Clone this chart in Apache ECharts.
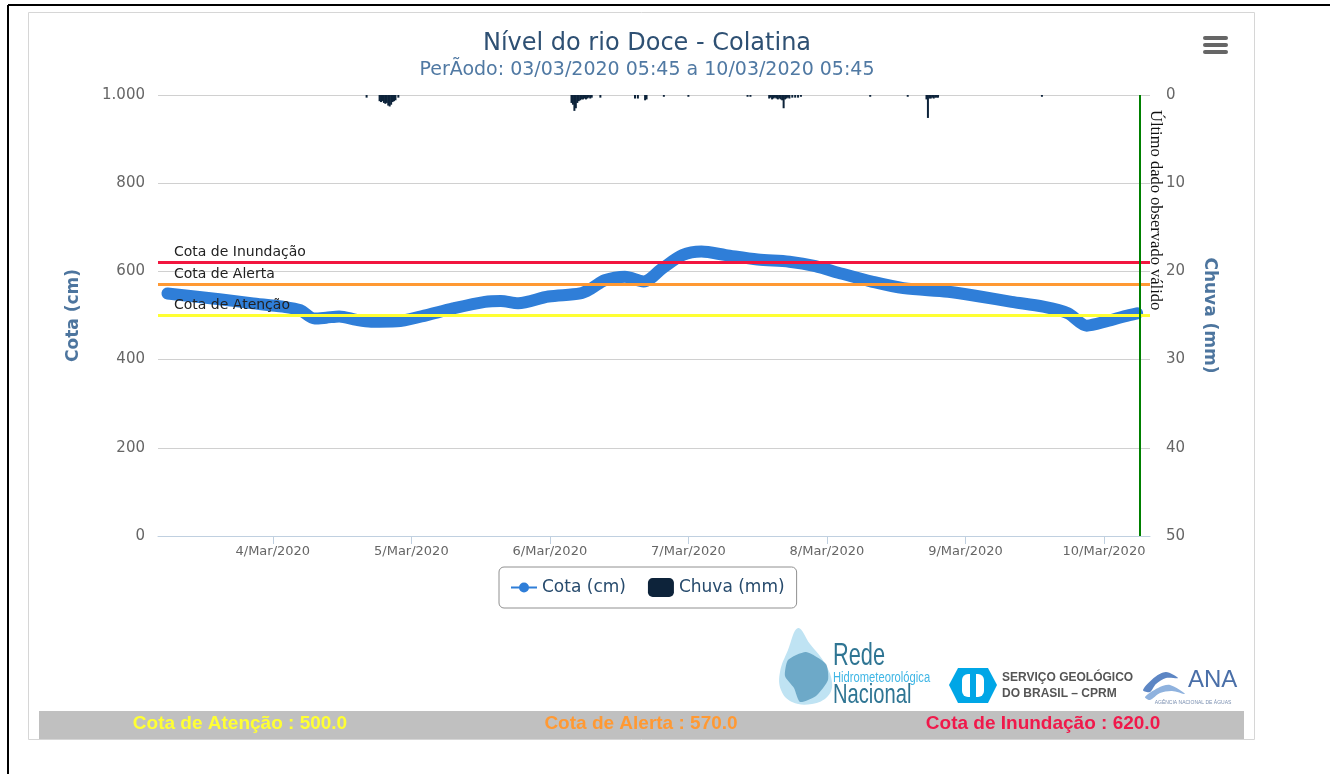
<!DOCTYPE html>
<html>
<head>
<meta charset="utf-8">
<script src="https://cdn.jsdelivr.net/npm/echarts@6/dist/echarts.min.js"></script>
<style>
html,body{margin:0;padding:0;background:#fff;}
#chart{width:1330px;height:774px;}
</style>
</head>
<body>
<div id="chart"></div>
<script>
// ---- Data ----
const tituloTexto = 'Nível do rio Doce - Colatina';
const subtituloTexto = 'PerÃodo: 03/03/2020 05:45 a 10/03/2020 05:45';

const cotaTimes = ['2020-03-03 05:45','2020-03-03 14:45','2020-03-03 20:15','2020-03-04 01:45','2020-03-04 04:45','2020-03-04 07:15','2020-03-04 09:15','2020-03-04 11:30','2020-03-04 14:30','2020-03-04 17:00','2020-03-04 21:30','2020-03-05 01:45','2020-03-05 07:15','2020-03-05 12:45','2020-03-05 15:30','2020-03-05 18:30','2020-03-05 23:45','2020-03-06 05:15','2020-03-06 07:15','2020-03-06 09:30','2020-03-06 13:00','2020-03-06 16:15','2020-03-06 19:30','2020-03-06 23:00','2020-03-07 02:15','2020-03-07 06:30','2020-03-07 12:00','2020-03-07 17:30','2020-03-07 22:00','2020-03-08 02:15','2020-03-08 07:45','2020-03-08 13:15','2020-03-08 21:00','2020-03-09 02:30','2020-03-09 08:00','2020-03-09 13:30','2020-03-09 17:45','2020-03-09 21:00','2020-03-10 00:30','2020-03-10 03:30','2020-03-10 05:45'];
const cotaValues = [550,537,528,520,512,493,495,498,490,486,487,498,516,531,533,528,543,550,562,580,588,577,607,637,645,637,627,622,612,596,577,562,554,543,531,520,505,477,487,498,505];

const chuvaTimes = ['2020-03-04 16:15','2020-03-04 18:30','2020-03-04 18:45','2020-03-04 19:00','2020-03-04 19:15','2020-03-04 19:30','2020-03-04 19:45','2020-03-04 20:00','2020-03-04 20:15','2020-03-04 20:30','2020-03-04 20:45','2020-03-04 21:00','2020-03-04 21:15','2020-03-04 21:45',
'2020-03-06 03:45','2020-03-06 04:00','2020-03-06 04:15','2020-03-06 04:30','2020-03-06 04:45','2020-03-06 05:00','2020-03-06 05:15','2020-03-06 05:30','2020-03-06 05:45','2020-03-06 06:00','2020-03-06 06:15','2020-03-06 06:30','2020-03-06 06:45','2020-03-06 07:00','2020-03-06 07:15','2020-03-06 08:45',
'2020-03-06 14:45','2020-03-06 15:15','2020-03-06 16:30','2020-03-06 16:45','2020-03-06 19:45','2020-03-07 00:00','2020-03-07 10:15','2020-03-07 10:45',
'2020-03-07 14:00','2020-03-07 14:15','2020-03-07 14:30','2020-03-07 14:45','2020-03-07 15:00','2020-03-07 15:15','2020-03-07 15:30','2020-03-07 15:45','2020-03-07 16:00','2020-03-07 16:15','2020-03-07 16:30','2020-03-07 16:45','2020-03-07 17:00','2020-03-07 17:15','2020-03-07 17:30','2020-03-07 18:00','2020-03-07 18:30','2020-03-07 19:00','2020-03-07 19:30',
'2020-03-08 07:30','2020-03-08 14:00','2020-03-08 17:15','2020-03-08 17:30','2020-03-08 17:45','2020-03-08 18:00','2020-03-08 18:15','2020-03-08 18:30','2020-03-08 18:45','2020-03-08 19:00','2020-03-08 19:15','2020-03-09 13:15'];
const chuvaValues = [0.3,0.7,0.8,0.7,0.9,1.0,0.9,1.2,1.3,1.1,0.8,0.7,0.6,0.3,
0.9,1.1,1.8,1.5,0.9,0.7,0.6,0.5,0.5,0.4,0.5,0.4,0.3,0.4,0.3,0.3,
0.4,0.4,0.6,0.5,0.2,0.2,0.2,0.2,
0.4,0.3,0.5,0.4,0.3,0.4,0.5,0.4,0.5,0.6,1.5,0.5,0.4,0.3,0.4,0.3,0.3,0.3,0.2,
0.2,0.2,0.5,2.6,0.4,0.4,0.3,0.4,0.3,0.3,0.3,0.2];

const limiarNomes = ['Cota de Atenção','Cota de Alerta','Cota de Inundação'];
const limiarValores = [500, 570, 620];
const limiarCores = ['#ffff33','#ff9933','#f2163f'];
const limiarTextoCores = ['#ffff33','#ff9933','#f0194b'];

const ultimoDadoTime = '2020-03-10 06:15';
const ultimoDadoTexto = 'Último dado observado válido';
const mesesAbrev = ['Jan','Feb','Mar','Apr','May','Jun','Jul','Aug','Sep','Oct','Nov','Dec'];

// ---- Chart ----
const FONT = 'DejaVu Sans';
const chart = echarts.init(document.getElementById('chart'), null, {renderer:'canvas'});

const cotaData = cotaTimes.map((t,i)=>[t, cotaValues[i]]);
const chuvaData = chuvaTimes.map((t,i)=>[t, chuvaValues[i]]);

const markLineData = limiarValores.map((v,i)=>({
  yAxis: v,
  lineStyle: {color: limiarCores[i], width: 3, type: 'solid'},
  label: {show: true, formatter: limiarNomes[i], position: 'insideStartTop', distance: [16, 3],
          color: '#222', fontSize: 14, fontFamily: FONT}
}));
markLineData.push({
  xAxis: ultimoDadoTime,
  lineStyle: {color: '#008000', width: 2, type: 'solid'},
  label: {show: false}
});

const bottomTexts = limiarNomes.map((n,i)=>({
  type: 'text', x: [240, 641, 1043][i], y: 724,
  style: {text: n + ' : ' + limiarValores[i].toFixed(1), fill: limiarTextoCores[i],
          font: 'bold 19px "Liberation Sans", Arial, sans-serif', textAlign: 'center', textVerticalAlign: 'middle'},
  z: 101
}));

const option = {
  animation: false,
  backgroundColor: '#ffffff',
  title: {
    text: tituloTexto,
    subtext: subtituloTexto,
    left: 642, top: 27, textAlign: 'center', itemGap: 5,
    textStyle: {fontSize: 24, color: '#2e5073', fontWeight: 'normal', fontFamily: FONT},
    subtextStyle: {fontSize: 19, color: '#5079a3', fontFamily: FONT}
  },
  legend: {
    left: 499, top: 567,
    padding: [11, 12, 11, 12],
    borderColor: '#909090', borderWidth: 1, borderRadius: 5,
    itemGap: 22, itemWidth: 26, itemHeight: 19,
    textStyle: {fontSize: 17, color: '#274b6d', fontFamily: FONT},
    data: [
      {name: 'Cota (cm)', icon: 'path://M0,8 L26,8 L26,10 L0,10 Z M13,4 A5,5 0 1,1 13,14 A5,5 0 1,1 13,4 Z'},
      {name: 'Chuva (mm)', icon: 'roundRect'}
    ]
  },
  grid: {left: 158, right: 180, top: 95, bottom: 238, containLabel: false},
  xAxis: {
    type: 'time',
    min: '2020-03-03 04:17',
    max: '2020-03-10 07:48',
    minInterval: 86400000,
    maxInterval: 86400000,
    splitLine: {show: false},
    axisLine: {show: true, lineStyle: {color: '#C0D0E0', width: 1}},
    axisTick: {show: true, length: 8, lineStyle: {color: '#C0D0E0'}},
    axisLabel: {
      color: '#666', fontSize: 13, fontFamily: FONT, margin: 9,
      showMinLabel: false, showMaxLabel: false,
      formatter: function (v) {
        const d = new Date(v);
        return d.getDate() + '/' + mesesAbrev[d.getMonth()] + '/' + d.getFullYear();
      }
    }
  },
  yAxis: [
    {
      type: 'value', min: 0, max: 1000, interval: 200, position: 'left',
      name: 'Cota (cm)', nameLocation: 'middle', nameGap: 76,
      nameTextStyle: {color: '#4d759e', fontWeight: 'bold', fontSize: 17, fontFamily: FONT},
      axisLine: {show: false}, axisTick: {show: false},
      axisLabel: {color: '#666', fontSize: 15, fontFamily: FONT, margin: 13,
        formatter: v => String(v).replace(/\B(?=(\d{3})+(?!\d))/g, '.')},
      splitLine: {show: true, lineStyle: {color: '#d0d0d0', width: 1}}
    },
    {
      type: 'value', min: 0, max: 50, interval: 10, position: 'right', inverse: true,
      name: 'Chuva (mm)', nameLocation: 'middle', nameGap: 51, nameRotate: -90,
      nameTextStyle: {color: '#4d759e', fontWeight: 'bold', fontSize: 17, fontFamily: FONT},
      axisLine: {show: false}, axisTick: {show: false},
      axisLabel: {color: '#666', fontSize: 15, fontFamily: FONT, margin: 16},
      splitLine: {show: false}
    }
  ],
  series: [
    {
      name: 'Cota (cm)', type: 'line', yAxisIndex: 0,
      data: cotaData, smooth: 0.3, showSymbol: false, symbol: 'circle',
      itemStyle: {color: '#2f7ed8'},
      lineStyle: {color: '#2f7ed8', width: 12, cap: 'round', join: 'round'},
      z: 3,
      markLine: {
        silent: true, symbol: ['none','none'], animation: false,
        data: markLineData
      }
    },
    {
      name: 'Chuva (mm)', type: 'bar', yAxisIndex: 1,
      data: chuvaData, barWidth: 2, barGap: '-100%',
      itemStyle: {color: '#0d233a'}, z: 2
    }
  ],
  graphic: [
    {type: 'line', shape: {x1: 8, y1: 5, x2: 1330, y2: 5}, style: {stroke: '#000', lineWidth: 2}, z: 100},
    {type: 'line', shape: {x1: 8, y1: 5, x2: 8, y2: 774}, style: {stroke: '#000', lineWidth: 2}, z: 100},
    {type: 'rect', shape: {x: 28.5, y: 12.5, width: 1226, height: 727}, style: {fill: 'none', stroke: '#d6d6d6', lineWidth: 1}, z: 100, silent: true},
    // menu
    {type: 'rect', shape: {x: 1203, y: 36, width: 25, height: 4, r: 2}, style: {fill: '#666'}, z: 100},
    {type: 'rect', shape: {x: 1203, y: 43, width: 25, height: 4, r: 2}, style: {fill: '#666'}, z: 100},
    {type: 'rect', shape: {x: 1203, y: 50, width: 25, height: 4, r: 2}, style: {fill: '#666'}, z: 100},
    // last-data label
    {type: 'text', x: 1147, y: 110, rotation: -Math.PI/2,
     style: {text: ultimoDadoTexto, fill: '#111', font: '16.5px "Liberation Serif", serif', textAlign: 'left', textVerticalAlign: 'bottom'}, z: 100},
    // Rede logo
    {type: 'polygon', shape: {points: [[798,628],[788,650],[780,672],[781,690],[792,702],[812,704],[828,696],[832,682],[824,662],[810,644]], smooth: 0.4},
     style: {fill: '#bfe3f3'}, z: 100},
    {type: 'polygon', shape: {points: [[788,660],[806,652],[826,664],[828,680],[816,696],[800,702],[794,688],[785,676]], smooth: 0.2},
     style: {fill: '#5e9fc0', opacity: 0.85}, z: 100},
    {type: 'text', x: 833, y: 656, scaleX: 0.68, style: {text: 'Rede', fill: '#2f7593', font: '32px "Liberation Sans", sans-serif', textVerticalAlign: 'middle'}, z: 100},
    {type: 'text', x: 833, y: 678, scaleX: 0.8, style: {text: 'Hidrometeorológica', fill: '#3fb6e5', font: '14px "Liberation Sans", sans-serif', textVerticalAlign: 'middle'}, z: 100},
    {type: 'text', x: 833, y: 695, scaleX: 0.72, style: {text: 'Nacional', fill: '#2f7593', font: '28px "Liberation Sans", sans-serif', textVerticalAlign: 'middle'}, z: 100},
    // CPRM logo
    {type: 'polygon', shape: {points: [[958,668],[988,668],[997,685],[988,703],[958,703],[949,685]]}, style: {fill: '#00a6e6'}, z: 100},
    {type: 'rect', shape: {x: 962, y: 674, width: 22, height: 23, r: 6}, style: {fill: '#fff'}, z: 101},
    {type: 'rect', shape: {x: 970, y: 672, width: 6, height: 27}, style: {fill: '#00a6e6'}, z: 102},
    {type: 'text', x: 1002, y: 678, style: {text: 'SERVIÇO GEOLÓGICO', fill: '#555', font: 'bold 12px "Liberation Sans", sans-serif', textVerticalAlign: 'middle'}, z: 100},
    {type: 'text', x: 1002, y: 694, style: {text: 'DO BRASIL – CPRM', fill: '#555', font: 'bold 12px "Liberation Sans", sans-serif', textVerticalAlign: 'middle'}, z: 100},
    // ANA logo
    {type: 'polygon', shape: {points: [[1143,690],[1155,677],[1166,672],[1178,678],[1166,678],[1156,684],[1150,692]], smooth: 0.3}, style: {fill: '#5d86c4'}, z: 100},
    {type: 'polygon', shape: {points: [[1145,697],[1158,688],[1170,685],[1185,694],[1172,691],[1160,693],[1150,700]], smooth: 0.3}, style: {fill: '#8fb2de'}, z: 100},
    {type: 'text', x: 1188, y: 680, style: {text: 'ANA', fill: '#4a6fa8', font: '24px "Liberation Sans", sans-serif', textVerticalAlign: 'middle'}, z: 100},
    {type: 'text', x: 1193, y: 703, style: {text: 'AGÊNCIA NACIONAL DE ÁGUAS', fill: '#7a8fb0', font: '5px "Liberation Sans", sans-serif', textAlign: 'center', textVerticalAlign: 'middle'}, z: 100},
    // bottom bar
    {type: 'rect', shape: {x: 39, y: 711, width: 1205, height: 28}, style: {fill: '#c0c0c0'}, z: 100}
  ].concat(bottomTexts)
};
chart.setOption(option);
</script>
</body>
</html>
